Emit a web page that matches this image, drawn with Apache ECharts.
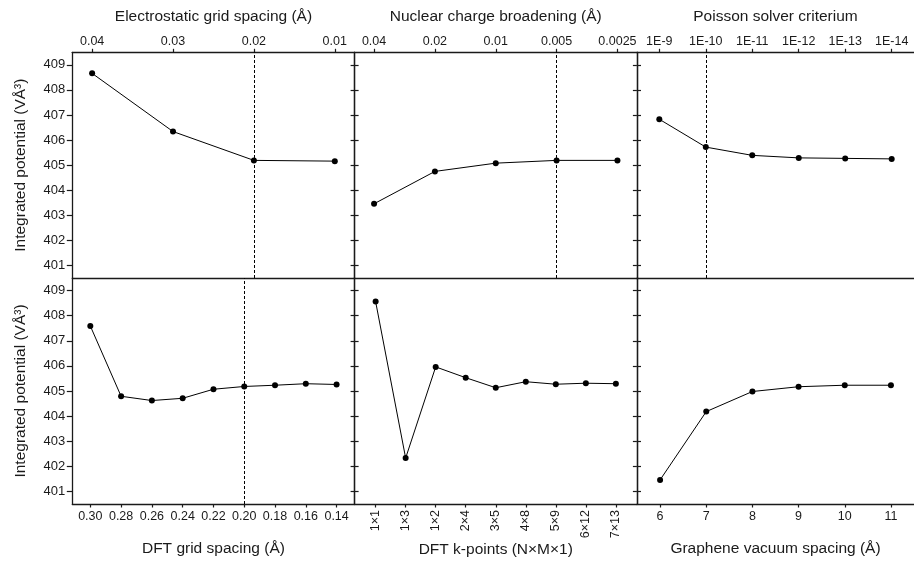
<!DOCTYPE html>
<html>
<head>
<meta charset="utf-8">
<script src="https://cdn.jsdelivr.net/npm/echarts@6/dist/echarts.min.js"></script>
<style>
html,body{margin:0;padding:0;background:#fff;}
#chart{width:914px;height:561px;}
</style>
</head>
<body>
<div id="chart"></div>
<script>
// ---- data ----
const topXLabels1 = ['0.04', '0.03', '0.02', '0.01'];
const topY1 = [408.66, 406.34, 405.19, 405.16];
const topXLabels2 = ['0.04', '0.02', '0.01', '0.005', '0.0025'];
const topY2 = [403.46, 404.75, 405.08, 405.19, 405.19];
const topXLabels3 = ['1E-9', '1E-10', '1E-11', '1E-12', '1E-13', '1E-14'];
const topY3 = [406.83, 405.72, 405.39, 405.29, 405.27, 405.25];
const botXLabels1 = ['0.30', '0.28', '0.26', '0.24', '0.22', '0.20', '0.18', '0.16', '0.14'];
const botY1 = [407.59, 404.79, 404.62, 404.71, 405.07, 405.18, 405.23, 405.29, 405.26];
const botXLabels2 = ['1×1', '1×3', '1×2', '2×4', '3×5', '4×8', '5×9', '6×12', '7×13'];
const botY2 = [408.56, 402.33, 405.96, 405.53, 405.13, 405.37, 405.27, 405.31, 405.29];
const botXLabels3 = ['6', '7', '8', '9', '10', '11'];
const botY3 = [401.46, 404.18, 404.98, 405.17, 405.23, 405.23];
const yTickValues = [401, 402, 403, 404, 405, 406, 407, 408, 409];
const xTitles = ['Electrostatic grid spacing (Å)', 'Nuclear charge broadening (Å)', 'Poisson solver criterium',
                 'DFT grid spacing (Å)', 'DFT k-points (N×M×1)', 'Graphene vacuum spacing (Å)'];
const yTitle = 'Integrated potential (VÅ³)';
const chosenIndex = [2, 3, 1, 5, null, null];

// ---- layout ----
const FONT = 'Liberation Sans, Arial, sans-serif';
const INK = '#1a1a1a';
const colLeft = [72.3, 354.6, 637.0];
const colWidth = 282.3;
const rowTop = [52.3, 278.0];
const rowHeight = [225.7, 226.0];
const xPad = [0.245, 0.32, 0.48, 0.585, 0.70, 0.5];

const panels = [
  {labels: topXLabels1, ys: topY1},
  {labels: topXLabels2, ys: topY2},
  {labels: topXLabels3, ys: topY3},
  {labels: botXLabels1, ys: botY1},
  {labels: botXLabels2, ys: botY2},
  {labels: botXLabels3, ys: botY3}
];

const grid = [], xAxis = [], yAxis = [], series = [];
const axisLine = {show: true, onZero: false, lineStyle: {color: INK, width: 1.3}};

panels.forEach((p, k) => {
  const row = k < 3 ? 0 : 1, col = k % 3;
  grid.push({left: colLeft[col], top: rowTop[row], width: colWidth, height: rowHeight[row], containLabel: false});
  const idx = p.labels.map((_, i) => i);
  const xmin = -xPad[k], xmax = p.labels.length - 1 + xPad[k];
  const xi = xAxis.length;
  xAxis.push({
    type: 'value', gridIndex: k, position: row === 0 ? 'top' : 'bottom',
    min: xmin, max: xmax,
    axisLine: axisLine,
    splitLine: {show: false},
    axisTick: {show: true, customValues: idx, length: 3.5, lineStyle: {color: INK, width: 1.2}},
    axisLabel: {show: true, customValues: idx, formatter: v => p.labels[Math.round(v)],
      color: INK, fontFamily: FONT, fontSize: 12.5, margin: row === 0 ? 4.5 : 6, rotate: k === 4 ? 90 : 0},
    name: xTitles[k], nameLocation: 'middle', nameGap: row === 0 ? 28 : 37,
    nameTextStyle: {color: INK, fontFamily: FONT, fontSize: 15.5}
  });
  if (row === 0) {
    xAxis.push({
      type: 'value', gridIndex: k, position: 'bottom', min: xmin, max: xmax,
      axisLine: axisLine, axisTick: {show: false}, axisLabel: {show: false}, splitLine: {show: false}
    });
  }
  const yi = yAxis.length;
  yAxis.push({
    type: 'value', gridIndex: k, position: 'left', min: 400.5, max: 409.5,
    axisLine: axisLine, splitLine: {show: false},
    axisTick: {show: true, customValues: yTickValues, inside: col !== 0, length: col === 0 ? 5.5 : 4,
      lineStyle: {color: INK, width: 1.2}},
    axisLabel: {show: col === 0, customValues: yTickValues, color: INK, fontFamily: FONT, fontSize: 13, margin: 7},
    name: col === 0 ? yTitle : '', nameLocation: 'middle', nameGap: 44,
    nameTextStyle: {color: INK, fontFamily: FONT, fontSize: 15.5}
  });
  if (col < 2) {
    yAxis.push({
      type: 'value', gridIndex: k, position: 'right', min: 400.5, max: 409.5,
      axisLine: axisLine, splitLine: {show: false},
      axisTick: {show: true, customValues: yTickValues, inside: true, length: 4, lineStyle: {color: INK, width: 1.2}},
      axisLabel: {show: false}
    });
  }
  const s = {
    type: 'line', xAxisIndex: xi, yAxisIndex: yi,
    data: p.ys.map((v, i) => [i, v]),
    symbol: 'circle', symbolSize: 6, showSymbol: true,
    itemStyle: {color: '#000'},
    lineStyle: {color: '#000', width: 1},
    z: 3
  };
  if (chosenIndex[k] !== null) {
    s.markLine = {
      silent: true, symbol: 'none', label: {show: false},
      lineStyle: {type: [3, 2], color: '#000', width: 1},
      data: [{xAxis: chosenIndex[k]}]
    };
  }
  series.push(s);
});

const chart = echarts.init(document.getElementById('chart'), null, {renderer: 'canvas'});
chart.setOption({
  backgroundColor: '#fff',
  animation: false,
  grid, xAxis, yAxis, series
});
</script>
</body>
</html>
